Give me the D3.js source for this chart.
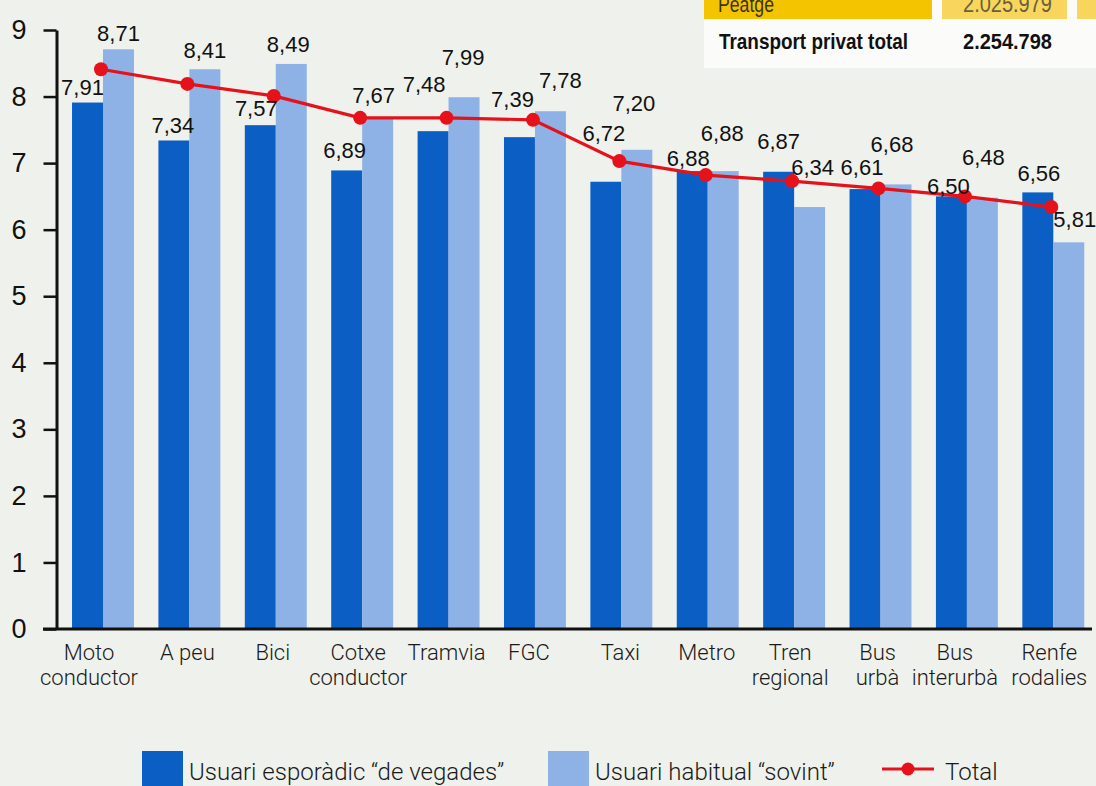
<!DOCTYPE html>
<html>
<head>
<meta charset="utf-8">
<script src="https://cdn.jsdelivr.net/npm/d3@7"></script>
<style>
  html, body { margin: 0; padding: 0; background: #eff1ec; }
  svg { display: block; }
</style>
</head>
<body>
<svg id="chart" width="1096" height="786"></svg>
<script>
// ---------- data ----------
const categories = [
  ["Moto", "conductor"], ["A peu"], ["Bici"], ["Cotxe", "conductor"], ["Tramvia"], ["FGC"],
  ["Taxi"], ["Metro"], ["Tren", "regional"], ["Bus", "urbà"], ["Bus", "interurbà"], ["Renfe", "rodalies"]
];
const seriesNames = ["Usuari esporàdic \u201cde vegades\u201d", "Usuari habitual \u201csovint\u201d", "Total"];
const esporadic = [7.91, 7.34, 7.57, 6.89, 7.48, 7.39, 6.72, 6.88, 6.87, 6.61, 6.50, 6.56];
const habitual  = [8.71, 8.41, 8.49, 7.67, 7.99, 7.78, 7.20, 6.88, 6.34, 6.68, 6.48, 5.81];
const total     = [8.41, 8.19, 8.01, 7.68, 7.68, 7.65, 7.03, 6.82, 6.73, 6.62, 6.50, 6.34];
const yTicks = [0, 1, 2, 3, 4, 5, 6, 7, 8, 9];
const tableRows = [["Peatge", "2.025.979"], ["Transport privat total", "2.254.798"]];

// ---------- layout tweaks (label nudges, px) ----------
const catNudge = [-14, -2, -3, -4, -2, -6, -1, -1, -4, -3, -12, -4];
const nudgeEsp = [[-5,-8],[-1,-7],[-4,-9],[-2,-12],[-9,-39],[-7,-30],[-2,-41],[-4,-5],[0,-23],[-3,-14],[-3,-2],[1,-11]];
const nudgeHab = [[0,-8],[0,-11],[-3,-12],[-4,-16],[-1,-32],[10,-23],[-3,-39],[-1,-30],[3,-32],[-4,-32],[1,-33],[6,-15]];

const COL_DARK = "#0b5ec4", COL_LIGHT = "#8fb2e6", COL_RED = "#e5121b";
const fmt = v => v.toFixed(2).replace(".", ",");

const svg = d3.select("#chart");

// background paper
svg.append("rect").attr("width", 1096).attr("height", 786).attr("fill", "#eff1ec");

// ---------- top-right table fragment ----------
const tbl = svg.append("g").attr("font-family", "Liberation Sans, Arial, sans-serif");
tbl.append("rect").attr("x", 704).attr("y", 0).attr("width", 392).attr("height", 68).attr("fill", "#fbfbfa");
tbl.append("rect").attr("x", 704).attr("y", 0).attr("width", 228).attr("height", 19).attr("fill", "#f4c400");
tbl.append("rect").attr("x", 942).attr("y", 0).attr("width", 125).attr("height", 19).attr("fill", "#f8d65e");
tbl.append("rect").attr("x", 1077).attr("y", 0).attr("width", 19).attr("height", 19).attr("fill", "#f8d65e");
tbl.append("text").attr("x", 718).attr("y", 12).text(tableRows[0][0])
  .attr("font-size", 22).attr("fill", "#3a3320")
  .attr("textLength", 56).attr("lengthAdjust", "spacingAndGlyphs");
tbl.append("text").attr("x", 963).attr("y", 12).text(tableRows[0][1])
  .attr("font-size", 23).attr("fill", "#6a5f3a")
  .attr("textLength", 89).attr("lengthAdjust", "spacingAndGlyphs");
tbl.append("text").attr("x", 719).attr("y", 49).text(tableRows[1][0])
  .attr("font-weight", "bold").attr("font-size", 22).attr("fill", "#111")
  .attr("textLength", 189).attr("lengthAdjust", "spacingAndGlyphs");
tbl.append("text").attr("x", 963).attr("y", 49).text(tableRows[1][1])
  .attr("font-weight", "bold").attr("font-size", 22).attr("fill", "#111")
  .attr("textLength", 89).attr("lengthAdjust", "spacingAndGlyphs");

// ---------- scales ----------
const y = d3.scaleLinear().domain([0, 9]).range([629, 30]);
const x = d3.scaleBand().domain(d3.range(categories.length)).range([57, 1099.3])
  .paddingInner(0.283).paddingOuter(0.174);
const xs = d3.scaleBand().domain([0, 1]).range([0, x.bandwidth()]);

// ---------- bars ----------
const groups = svg.append("g").selectAll("g").data(d3.range(categories.length)).join("g")
  .attr("transform", i => `translate(${x(i)},0)`);
groups.append("rect").attr("x", xs(0)).attr("width", xs.bandwidth())
  .attr("y", i => y(esporadic[i])).attr("height", i => y(0) - y(esporadic[i])).attr("fill", COL_DARK);
groups.append("rect").attr("x", xs(1)).attr("width", xs.bandwidth())
  .attr("y", i => y(habitual[i])).attr("height", i => y(0) - y(habitual[i])).attr("fill", COL_LIGHT);

// ---------- axes ----------
const yAxis = svg.append("g").attr("transform", "translate(56.5,0)")
  .call(d3.axisLeft(y).tickValues(yTicks).tickFormat(d3.format("d")).tickSize(13).tickSizeOuter(0).tickPadding(17));
yAxis.select(".domain").attr("stroke", "#111").attr("stroke-width", 3);
yAxis.selectAll(".tick line").attr("stroke", "#111").attr("stroke-width", 2.5);
yAxis.selectAll(".tick text").attr("font-family", "Liberation Sans, Arial, sans-serif")
  .attr("font-size", 27).attr("fill", "#111");

const xAxis = svg.append("g").attr("transform", `translate(0,${y(0)})`)
  .call(d3.axisBottom(x).tickSize(0).tickPadding(0).tickFormat(""));
xAxis.select(".domain").remove();
svg.append("line").attr("x1", 43).attr("x2", 1092).attr("y1", y(0)).attr("y2", y(0))
  .attr("stroke", "#111").attr("stroke-width", 3);
xAxis.selectAll(".tick").each(function(i) {
  const t = d3.select(this).select("text").text(null)
    .attr("font-family", "Roboto, Liberation Sans, sans-serif").attr("font-weight", 300)
    .attr("font-size", 22).attr("fill", "#1a1a1a").attr("y", 0).attr("dy", null)
    .attr("transform", `translate(${catNudge[i]},0)`);
  categories[i].forEach((line, k) => {
    t.append("tspan").attr("x", 0).attr("y", 31 + k * 25).text(line);
  });
});

// ---------- total line ----------
const cx = i => x(i) + x.bandwidth() / 2 - 2;
svg.append("path").datum(total)
  .attr("d", d3.line().x((d, i) => cx(i)).y(d => y(d)))
  .attr("fill", "none").attr("stroke", COL_RED).attr("stroke-width", 3.2);
svg.append("g").selectAll("circle").data(total).join("circle")
  .attr("cx", (d, i) => cx(i)).attr("cy", d => y(d)).attr("r", 7).attr("fill", COL_RED);

// ---------- value labels ----------
const lab = svg.append("g").attr("font-family", "Liberation Sans, Arial, sans-serif")
  .attr("font-size", 22).attr("fill", "#111").attr("text-anchor", "middle");
lab.selectAll("text.esp").data(esporadic).join("text").attr("class", "esp")
  .attr("x", (d, i) => x(i) + xs(0) + xs.bandwidth() / 2 + nudgeEsp[i][0])
  .attr("y", (d, i) => y(d) + nudgeEsp[i][1]).text(fmt);
lab.selectAll("text.hab").data(habitual).join("text").attr("class", "hab")
  .attr("x", (d, i) => x(i) + xs(1) + xs.bandwidth() / 2 + nudgeHab[i][0])
  .attr("y", (d, i) => y(d) + nudgeHab[i][1]).text(fmt);

// ---------- legend ----------
const leg = svg.append("g").attr("font-family", "Roboto, Liberation Sans, sans-serif")
  .attr("font-weight", 300).attr("font-size", 24).attr("fill", "#1a1a1a");
const legItems = [
  { name: seriesNames[0], x: 142, type: "rect", color: COL_DARK },
  { name: seriesNames[1], x: 548, type: "rect", color: COL_LIGHT },
  { name: seriesNames[2], x: 882, type: "line", color: COL_RED }
];
legItems.forEach(it => {
  if (it.type === "rect") {
    leg.append("rect").attr("x", it.x).attr("y", 751).attr("width", 41).attr("height", 40).attr("fill", it.color);
    leg.append("text").attr("x", it.x + 47).attr("y", 780).text(it.name);
  } else {
    leg.append("line").attr("x1", it.x).attr("x2", it.x + 52).attr("y1", 769).attr("y2", 769)
      .attr("stroke", it.color).attr("stroke-width", 3.2);
    leg.append("circle").attr("cx", it.x + 26).attr("cy", 769).attr("r", 6.5).attr("fill", it.color);
    leg.append("text").attr("x", it.x + 63).attr("y", 780).text(it.name);
  }
});
</script>
</body>
</html>
